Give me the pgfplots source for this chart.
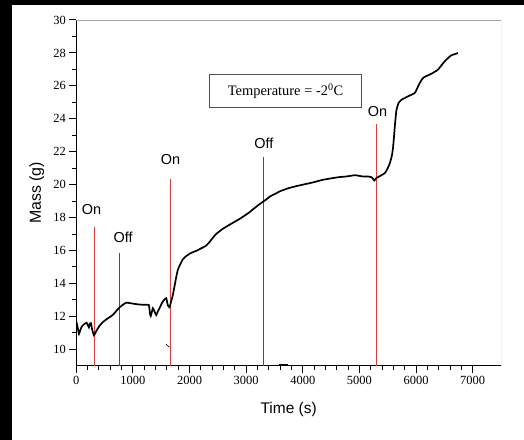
\documentclass[border=0pt]{standalone}
\usepackage{pgfplots}
\pgfplotsset{compat=1.18}
\usepackage{fontspec}
\setmainfont{Liberation Serif}
\setsansfont{Liberation Sans}

\definecolor{onred}{RGB}{218,60,60}
\definecolor{offgray}{RGB}{80,80,80}
\definecolor{framegray}{RGB}{165,165,165}

\begin{document}
\begin{tikzpicture}
\path[use as bounding box] (0,0) rectangle (524bp,440bp);
\fill[white] (0,0) rectangle (524bp,440bp);
\fill[black] (0,0) rectangle (12bp,440bp);
\fill[black] (0,435bp) rectangle (524bp,440bp);
\begin{axis}[
    at={(76.3bp,74.3bp)}, anchor=south west,
    scale only axis,
    width=424.7bp, height=345.7bp,
    xmin=0, xmax=7500,
    ymin=9, ymax=30,
    xtick={0,1000,...,7000},
    ytick={10,12,...,30},
    minor x tick num=4,
    minor y tick num=1,
    axis x line*=bottom, axis y line*=left,
    axis line style={line width=1.2bp},
    tick align=outside,
    major tick length=7bp, minor tick length=4bp,
    every tick/.style={black, line width=1bp},
    tick label style={font=\fontsize{12.5}{12.5}\selectfont},
    /pgf/number format/assume math mode=true,
    /pgf/number format/set thousands separator={},
    xlabel={Time (s)}, ylabel={Mass (g)},
    xlabel style={font=\sffamily\fontsize{15.5}{16}\selectfont,
        at={(axis description cs:0.5,-0.1273)}, anchor=center},
    ylabel style={font=\sffamily\fontsize{16}{16}\selectfont,
        at={(axis description cs:-0.0932,0.5)}, anchor=center},
]
% grey frame on top and right
\draw[framegray, line width=0.8bp] (rel axis cs:0,1) -- (rel axis cs:1,1) -- (rel axis cs:1,0);

% on/off markers
\addplot[onred, line width=0.9bp] coordinates {(320,9) (320,17.45)};
\addplot[offgray, line width=0.9bp] coordinates {(755,9) (755,15.87)};
\addplot[onred, line width=0.9bp] coordinates {(1662,9) (1662,20.35)};
\addplot[offgray, line width=0.9bp] coordinates {(3300,9) (3300,21.7)};
\addplot[onred, line width=0.9bp] coordinates {(5303,9) (5303,23.69)};

% mass curve
\addplot[black, line width=1.7bp, smooth, tension=0.3] coordinates {
(0,11.55) (7,11.58) (25,11.3) (47,10.93) (70,11.15) (95,11.37) (130,11.5) (182,11.61)
(200,11.5) (223,11.33) (240,11.55) (258,11.58) (280,11.2) (311,10.85) (330,10.95)
(360,11.15) (416,11.45) (470,11.65) (533,11.82) (590,11.95) (650,12.1) (700,12.3)
(767,12.55) (830,12.72) (884,12.83) (950,12.8) (1001,12.77) (1100,12.72) (1200,12.7)
(1280,12.69) (1300,12.2) (1315,12.02) (1352,12.49) (1380,12.3) (1411,12.08) (1440,12.3)
(1469,12.49) (1527,12.89) (1587,13.1) (1615,12.69) (1645,12.55) (1675,12.9) (1705,13.3)
(1733,13.8) (1760,14.3) (1791,14.8) (1821,15.05) (1878,15.45) (1938,15.65) (2026,15.85)
(2114,15.97) (2200,16.12) (2289,16.28) (2350,16.5) (2406,16.75) (2470,17.0) (2581,17.3)
(2700,17.55) (2816,17.78) (2900,17.95) (2991,18.16) (3050,18.3) (3167,18.63) (3283,18.93)
(3343,19.07) (3430,19.3) (3518,19.45) (3600,19.6) (3752,19.79) (3900,19.92) (4045,20.03)
(4200,20.15) (4337,20.28) (4500,20.38) (4630,20.45) (4780,20.5) (4923,20.57) (5050,20.5)
(5156,20.49) (5220,20.44) (5262,20.25) (5300,20.4) (5350,20.5) (5449,20.7) (5500,21.0)
(5537,21.3) (5575,21.8) (5595,22.31) (5610,22.9) (5625,23.53) (5640,24.1) (5654,24.54)
(5690,24.95) (5741,25.15) (5850,25.35) (5976,25.56) (6020,25.85) (6064,26.17) (6130,26.5)
(6268,26.73) (6385,26.98) (6460,27.3) (6531,27.58) (6620,27.85) (6707,27.95) (6740,28.0)
};

% small stray strokes
\addplot[black, line width=0.6bp] coordinates {(1587,10.3) (1645,10.12)};
\addplot[black, line width=0.8bp, clip=false] coordinates {(3213,8.95) (3430,8.98)};
\addplot[black, line width=0.8bp, clip=false] coordinates {(3576,9.06) (3740,9.06)};

\begin{scope}[font=\sffamily\fontsize{14.5}{14.5}\selectfont]
\node at (axis cs:270,18.47) {On};
\node at (axis cs:825,16.8) {Off};
\node at (axis cs:1663,21.55) {On};
\node at (axis cs:3313,22.52) {Off};
\node at (axis cs:5320,24.42) {On};
\end{scope}

\node[draw=offgray, line width=0.9bp, minimum width=152.6bp, minimum height=32.6bp,
      font=\fontsize{14.5}{15}\selectfont, inner sep=0pt]
  at (axis cs:3695,25.7) {Temperature = -2\textsuperscript{0}C};
\end{axis}
\end{tikzpicture}
\end{document}
